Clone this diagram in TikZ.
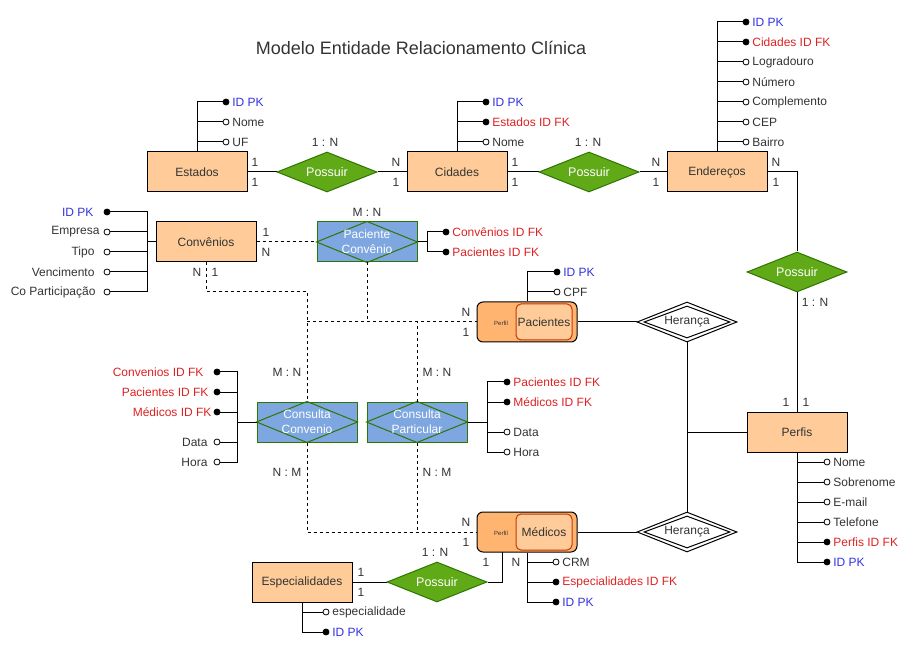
\documentclass[tikz,border=0pt]{standalone}
\usepackage{fontspec}
\setmainfont{Liberation Sans}
\usetikzlibrary{shapes.geometric}
\definecolor{entfill}{HTML}{FFCC99}
\definecolor{perfout}{HTML}{FFB570}
\definecolor{innerred}{HTML}{C73500}
\definecolor{relgreen}{HTML}{60A917}
\definecolor{reldark}{HTML}{2D7600}
\definecolor{assocblue}{HTML}{7EA6E0}
\definecolor{txtc}{HTML}{333333}
\definecolor{pkblue}{HTML}{3333DD}
\definecolor{fkred}{HTML}{DD2222}
\newcommand\attrR[5]{% name, dot x, y, kind, text
  \node[dot#4] (#1) at (#2,#3) {};
  \node[txt#4, anchor=west] (#1t) at ([xshift=2.5pt]#1.east) {#5};}
\newcommand\attrL[6]{% name, dot x, y, kind, text, text right x
  \node[dot#4] (#1) at (#2,#3) {};
  \node[txt#4, anchor=east] (#1t) at (#6,#3) {#5};}
\begin{document}
\begin{tikzpicture}[x=1pt,y=-1pt,line width=1pt,
  font=\fontsize{12}{14}\selectfont,
  ent/.style={draw=black,fill=entfill,minimum width=100pt,minimum height=40pt,inner sep=0,text=txtc},
  rel/.style={diamond,shape aspect=2.5,draw=reldark,fill=relgreen,minimum width=100pt,minimum height=40pt,inner sep=0,text=white,font=\fontsize{12.5}{14}\selectfont},
  inh/.style={diamond,shape aspect=2.5,draw=black,fill=white,minimum width=100pt,minimum height=40pt,inner sep=0},
  inhin/.style={diamond,shape aspect=2.5,draw=black,minimum width=86pt,minimum height=32pt,inner sep=0,text=txtc},
  assoc/.style={draw=reldark,fill=assocblue,minimum width=100pt,minimum height=40pt,inner sep=0},
  assoctxt/.style={text=white,align=center,inner sep=0,font=\fontsize{12}{15}\selectfont},
  perfbox/.style={draw=black,fill=perfout,rounded corners=6pt,minimum width=100pt,minimum height=40pt,inner sep=0},
  perfin/.style={draw=innerred,fill=entfill,rounded corners=5pt,minimum width=56pt,minimum height=36pt,inner sep=0,text=txtc},
  perflbl/.style={font=\fontsize{6}{7}\selectfont,text=txtc,inner sep=0},
  card/.style={text=txtc,inner sep=0},
  dotpk/.style={circle,draw=black,fill=black,minimum size=6pt,inner sep=0,line width=0.8pt},
  dotfk/.style={circle,draw=black,fill=black,minimum size=6pt,inner sep=0,line width=0.8pt},
  dotop/.style={circle,draw=black,fill=white,minimum size=6pt,inner sep=0,line width=0.8pt},
  txtpk/.style={text=pkblue,inner sep=0},
  txtfk/.style={text=fkred,inner sep=0},
  txtop/.style={text=txtc,inner sep=0},
  dsh/.style={dash pattern=on 3pt off 3pt}]
\useasboundingbox (0,0) rectangle (908,652);

\node[font=\fontsize{18}{20}\selectfont,text=txtc] (title) at (421,48) {Modelo Entidade Relacionamento Clínica};

% entities and relationships
\node[ent] (est) at (197,172) {Estados};
\node[rel] (r1) at (327,172) {Possuir};
\node[ent] (cid) at (457,172) {Cidades};
\node[rel] (r2) at (589,172) {Possuir};
\node[ent] (end) at (717,172) {Endereços};
\node[rel] (r3) at (797,272) {Possuir};
\node[ent] (per) at (797,432) {Perfis};
\node[inh] (h1) at (687,322) {};
\node[inhin] (h1i) at (687,322) {Herança};
\node[inh] (h2) at (687,532) {};
\node[inhin] (h2i) at (687,532) {Herança};
\node[perfbox] (pac) at (527,322) {};
\node[perfin] (paci) at (544,322) {Pacientes};
\node[perflbl] (pacp) at (501,323) {Perfil};
\node[perfbox] (med) at (527,532) {};
\node[perfin] (medi) at (544,532) {Médicos};
\node[perflbl] (medp) at (501,533) {Perfil};
\node[ent] (esp) at (302,582) {Especialidades};
\node[rel] (r4) at (437,582) {Possuir};
\node[ent] (conv) at (206,242) {Convênios};

\node[assoc] (pc) at (367,242) {};
\draw[reldark] (pc.west) -- (pc.north) -- (pc.east) -- (pc.south) -- cycle;
\node[assoctxt] (pct) at (367,242) {Paciente\\Convênio};
\node[assoc] (cc) at (307,422) {};
\draw[reldark] (cc.west) -- (cc.north) -- (cc.east) -- (cc.south) -- cycle;
\node[assoctxt] (cct) at (307,422) {Consulta\\Convenio};
\node[assoc] (cp) at (417,422) {};
\draw[reldark] (cp.west) -- (cp.north) -- (cp.east) -- (cp.south) -- cycle;
\node[assoctxt] (cpt) at (417,422) {Consulta\\Particular};

% solid connectors
\draw (est) -- (r1);
\draw (r1) -- (cid);
\draw (cid) -- (r2);
\draw (r2) -- (end);
\draw (end.east) -| (r3.north);
\draw (r3) -- (per);
\draw (h1.south) -- (h2.north);
\draw (per.west) -- (h1.south |- per.west);
\draw (pac.east) -- (h1.west);
\draw (med.east) -- (h2.west);
\coordinate (mdown) at (502,552);
\draw (mdown) |- (r4.east);
\draw (r4) -- (esp);

% dashed connectors
\coordinate (j1) at (307,292);
\draw[dsh] (conv) -- (pc);
\draw[dsh] (conv.south) |- (j1) -- (cc.north);
\draw[dsh] (pc.south) -- (pc.south |- pac.west);
\draw[dsh] (cc.north |- pac.west) -- (pac.west);
\draw[dsh] (cp.north) -- (cp.north |- pac.west);
\draw[dsh] (cc.south) |- (med.west);
\draw[dsh] (cp.south) -- (cp.south |- med.west);

% cardinalities
\node[card] (c1) at (325,142) {1 : N};
\node[card] (c2) at (255,162) {1};
\node[card] (c3) at (255,182) {1};
\node[card] (c4) at (396,162) {N};
\node[card] (c5) at (396,182) {1};
\node[card] (c6) at (588,142) {1 : N};
\node[card] (c7) at (515,162) {1};
\node[card] (c8) at (515,182) {1};
\node[card] (c9) at (656,162) {N};
\node[card] (c10) at (656,182) {1};
\node[card] (c11) at (776,162) {N};
\node[card] (c12) at (776,182) {1};
\node[card] (c13) at (815,302) {1 : N};
\node[card] (c14) at (786,402) {1};
\node[card] (c15) at (806,402) {1};
\node[card] (c16) at (367,212) {M : N};
\node[card] (c17) at (266,232) {1};
\node[card] (c18) at (266,252) {N};
\node[card] (c19) at (197,272) {N};
\node[card] (c20) at (215,272) {1};
\node[card] (c21) at (466,312) {N};
\node[card] (c22) at (466,332) {1};
\node[card] (c23) at (287,372) {M : N};
\node[card] (c24) at (437,372) {M : N};
\node[card] (c25) at (287,472) {N : M};
\node[card] (c26) at (437,472) {N : M};
\node[card] (c27) at (466,522) {N};
\node[card] (c28) at (466,542) {1};
\node[card] (c29) at (486,562) {1};
\node[card] (c30) at (516,562) {N};
\node[card] (c31) at (435,552) {1 : N};
\node[card] (c32) at (361,572) {1};
\node[card] (c33) at (361,592) {1};

% Estados attributes
\attrR{esA}{226}{102}{pk}{ID PK}
\attrR{esB}{226}{122}{op}{Nome}
\attrR{esC}{226}{142}{op}{UF}
\draw (est.north) |- (esA);
\draw (est.north |- esB) -- (esB);
\draw (est.north |- esC) -- (esC);

% Cidades attributes
\attrR{ciA}{486}{102}{pk}{ID PK}
\attrR{ciB}{486}{122}{fk}{Estados ID FK}
\attrR{ciC}{486}{142}{op}{Nome}
\draw (cid.north) |- (ciA);
\draw (cid.north |- ciB) -- (ciB);
\draw (cid.north |- ciC) -- (ciC);

% Enderecos attributes
\attrR{enA}{746}{22}{pk}{ID PK}
\attrR{enB}{746}{42}{fk}{Cidades ID FK}
\attrR{enC}{746}{62}{op}{Logradouro}
\attrR{enD}{746}{82}{op}{Número}
\attrR{enE}{746}{102}{op}{Complemento}
\attrR{enF}{746}{122}{op}{CEP}
\attrR{enG}{746}{142}{op}{Bairro}
\draw (end.north) |- (enA);
\foreach \n in {enB,enC,enD,enE,enF,enG} \draw (end.north |- \n) -- (\n);

% Pacientes attributes
\attrR{paA}{557}{272}{pk}{ID PK}
\attrR{paB}{557}{292}{op}{CPF}
\draw (pac.north) |- (paA);
\draw (pac.north |- paB) -- (paB);

% Medicos attributes
\attrR{meA}{556}{562}{op}{CRM}
\attrR{meB}{556}{582}{fk}{Especialidades ID FK}
\attrR{meC}{556}{602}{pk}{ID PK}
\draw (med.south) |- (meC);
\draw (med.south |- meA) -- (meA);
\draw (med.south |- meB) -- (meB);

% Perfis attributes
\attrR{peA}{827}{462}{op}{Nome}
\attrR{peB}{827}{482}{op}{Sobrenome}
\attrR{peC}{827}{502}{op}{E-mail}
\attrR{peD}{827}{522}{op}{Telefone}
\attrR{peE}{827}{542}{fk}{Perfis ID FK}
\attrR{peF}{827}{562}{pk}{ID PK}
\draw (per.south) |- (peF);
\foreach \n in {peA,peB,peC,peD,peE} \draw (per.south |- \n) -- (\n);

% Especialidades attributes
\attrR{spA}{326}{612}{op}{especialidade}
\attrR{spB}{326}{632}{pk}{ID PK}
\draw (esp.south) |- (spB);
\draw (esp.south |- spA) -- (spA);

% Paciente Convenio attributes
\attrR{pcA}{446}{232}{fk}{Convênios ID FK}
\attrR{pcB}{446}{252}{fk}{Pacientes ID FK}
\coordinate (pcT) at (427,242);
\draw (pc.east) -- (pcT);
\draw (pcA) -- (pcT |- pcA) -- (pcT |- pcB) -- (pcB);

% Consulta Particular attributes
\attrR{cpA}{507}{382}{fk}{Pacientes ID FK}
\attrR{cpB}{507}{402}{fk}{Médicos ID FK}
\attrR{cpC}{507}{432}{op}{Data}
\attrR{cpD}{507}{452}{op}{Hora}
\coordinate (cpT) at (487,422);
\draw (cp.east) -- (cpT);
\draw (cpA) -- (cpT |- cpA) -- (cpT |- cpD) -- (cpD);
\draw (cpT |- cpB) -- (cpB);
\draw (cpT |- cpC) -- (cpC);

% Convenios attributes
\attrL{cvA}{107}{212}{pk}{ID PK}{94}
\attrL{cvB}{107}{232}{op}{Empresa}{100}
\attrL{cvC}{107}{252}{op}{Tipo}{95}
\attrL{cvD}{107}{272}{op}{Vencimento}{95}
\attrL{cvE}{107}{292}{op}{Co Participação}{96}
\coordinate (cvT) at (147,242);
\draw (conv.west) -- (cvT);
\draw (cvA) -- (cvT |- cvA) -- (cvT |- cvE) -- (cvE);
\foreach \n in {cvB,cvC,cvD} \draw (cvT |- \n) -- (\n);

% Consulta Convenio attributes
\attrL{ccA}{217}{372}{fk}{Convenios ID FK}{204}
\attrL{ccB}{217}{392}{fk}{Pacientes ID FK}{209}
\attrL{ccC}{217}{412}{fk}{Médicos ID FK}{212}
\attrL{ccD}{217}{442}{op}{Data}{208}
\attrL{ccE}{217}{462}{op}{Hora}{208}
\coordinate (ccT) at (237,422);
\draw (cc.west) -- (ccT);
\draw (ccA) -- (ccT |- ccA) -- (ccT |- ccE) -- (ccE);
\foreach \n in {ccB,ccC,ccD} \draw (ccT |- \n) -- (\n);
\end{tikzpicture}
\end{document}
